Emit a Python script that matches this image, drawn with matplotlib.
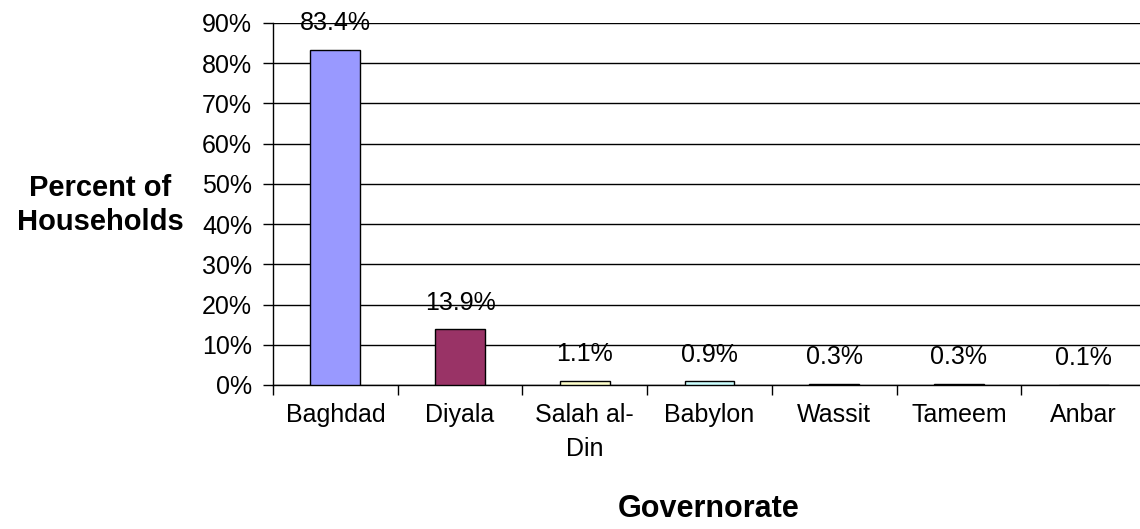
import matplotlib.pyplot as plt
from matplotlib.ticker import FixedLocator, PercentFormatter

# Data
governorates = ['Baghdad', 'Diyala', 'Salah al-\nDin', 'Babylon', 'Wassit', 'Tameem', 'Anbar']
percent = [83.4, 13.9, 1.1, 0.9, 0.3, 0.3, 0.1]
bar_colors = ['#9999FF', '#993366', '#FFFFCC', '#CCFFFF', '#660066', '#FF8080', '#0066CC']

plt.rcParams['font.family'] = ['Liberation Sans', 'DejaVu Sans']

fig = plt.figure(figsize=(11.4, 5.29), dpi=100)
W, H = 1140, 529
left, right, top, bottom = 273, 1146, 23, 385
ax = fig.add_axes([left / W, (H - bottom) / H, (right - left) / W, (bottom - top) / H])

x = list(range(len(governorates)))
ax.bar(x, percent, width=0.4, color=bar_colors, edgecolor='black', linewidth=1, zorder=3)

for xi, v in zip(x, percent):
    ax.annotate(f'{v:.1f}%', (xi, v), xytext=(0, 19), textcoords='offset points',
                ha='center', va='center', fontsize=18, zorder=4)

ax.set_xlim(-0.5, 6.5)
ax.set_ylim(0, 90)
ax.set_yticks(range(0, 100, 10))
ax.yaxis.set_major_formatter(PercentFormatter(decimals=0))
ax.grid(axis='y', color='black', linewidth=1, zorder=0)

ax.xaxis.set_major_locator(FixedLocator([i - 0.5 for i in range(8)]))
ax.xaxis.set_major_formatter(plt.NullFormatter())
ax.set_xticks(x, minor=True)
ax.set_xticklabels(governorates, minor=True, fontsize=18, linespacing=1.5)
ax.tick_params(axis='x', which='minor', length=0, pad=13)
ax.tick_params(axis='x', which='major', length=7, width=1, direction='out')
ax.tick_params(axis='y', length=7, width=1, direction='out', labelsize=18, pad=8)

for s in ['top', 'right']:
    ax.spines[s].set_visible(False)
for s in ['left', 'bottom']:
    ax.spines[s].set_linewidth(1)
    ax.spines[s].set_color('black')

fig.text(100 / W, 1 - 205 / H, 'Percent of\nHouseholds', ha='center', va='center',
         fontsize=21, fontweight='bold', linespacing=1.25)
fig.text(709 / W, 1 - 509 / H, 'Governorate', ha='center', va='center',
         fontsize=22, fontweight='bold')

fig.savefig('out.png', dpi=100)
